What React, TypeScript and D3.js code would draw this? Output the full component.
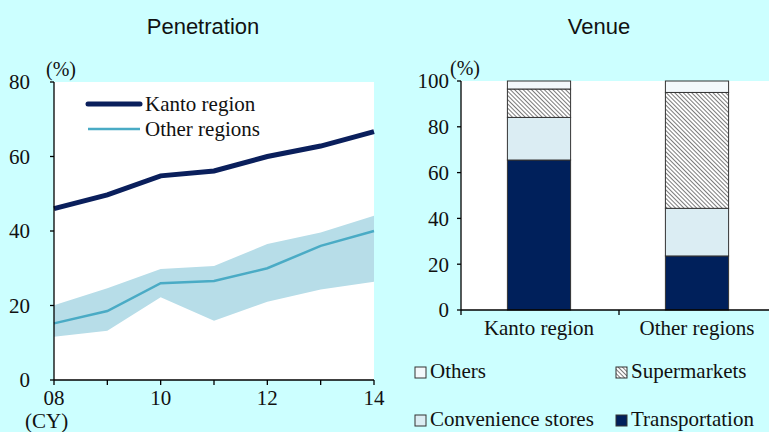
import React from "react";
import * as d3 from "d3";

// Penetration (%)
const years = [2008, 2009, 2010, 2011, 2012, 2013, 2014];
const yearLabels = ["08", "10", "12", "14"];
const kanto = [46, 49.7, 54.8, 56.1, 60, 62.8, 66.7];
const otherRegions = [15.2, 18.5, 26, 26.6, 30, 36, 40];
const otherHigh = [20.1, 24.6, 29.8, 30.6, 36.5, 39.6, 44.1];
const otherLow = [11.6, 13.2, 22.2, 15.9, 21, 24.3, 26.4];
const penTicks = [0, 20, 40, 60, 80];

// Venue (%)
const venueCategories = ["Kanto region", "Other regions"];
const transportation = [65.5, 23.6];
const convenience = [18.6, 20.8];
const supermarkets = [12.4, 50.6];
const others = [3.5, 5];
const venueTicks = [0, 20, 40, 60, 80, 100];

const BG = "#ccffff";
const NAVY = "#0a1f5c";
const TEAL = "#4aabc5";
const BAND = "#b7dde8";
const SERIF = "'Liberation Serif', 'Times New Roman', serif";
const SANS = "'Liberation Sans', Arial, sans-serif";

export default function App() {
  const W = 769;
  const H = 432;

  // left chart scales
  const xL = d3.scaleLinear().domain([2008, 2014]).range([54, 374]);
  const yL = d3.scaleLinear().domain([0, 80]).range([380, 82]);

  const line = d3
    .line<number>()
    .x((_, i) => xL(years[i]))
    .y((d) => yL(d));
  const area = d3
    .area<number>()
    .x((_, i) => xL(years[i]))
    .y0((_, i) => yL(otherLow[i]))
    .y1((d) => yL(d));

  // right chart scales
  const xR = d3
    .scaleBand()
    .domain(venueCategories)
    .range([460, 776])
    .paddingInner(0.6)
    .paddingOuter(0.3);
  const yR = d3.scaleLinear().domain([0, 100]).range([310, 81]);

  const venueRows = venueCategories.map((c, i) => ({
    cat: c,
    transportation: transportation[i],
    convenience: convenience[i],
    supermarkets: supermarkets[i],
    others: others[i],
  }));
  const keys = ["transportation", "convenience", "supermarkets", "others"];
  const fills: Record<string, string> = {
    transportation: "#00205b",
    convenience: "#dbedf3",
    supermarkets: "url(#hatch)",
    others: "#f3f8fb",
  };
  const stacked = d3.stack<any>().keys(keys)(venueRows);

  const legendItems = [
    { key: "others", label: "Others", x: 415, y: 367 },
    { key: "supermarkets", label: "Supermarkets", x: 616, y: 367 },
    { key: "convenience", label: "Convenience stores", x: 415, y: 415 },
    { key: "transportation", label: "Transportation", x: 616, y: 415 },
  ];

  const step = xR.step();

  return (
    <svg
      width={W}
      height={H}
      style={{ position: "absolute", left: 0, top: 0, background: BG }}
    >
      <defs>
        <pattern
          id="hatch"
          width="3"
          height="3"
          patternUnits="userSpaceOnUse"
          patternTransform="rotate(-45)"
        >
          <rect width="3" height="3" fill="#ffffff" />
          <line x1="0" y1="0" x2="0" y2="3" stroke="#333" strokeWidth="1.3" />
        </pattern>
      </defs>
      <rect width={W} height={H} fill={BG} />

      {/* titles */}
      <text x={203} y={34} textAnchor="middle" fontFamily={SANS} fontSize={22} fill="#111">
        Penetration
      </text>
      <text x={599} y={34} textAnchor="middle" fontFamily={SANS} fontSize={22} fill="#111">
        Venue
      </text>

      {/* ---------- left chart ---------- */}
      <rect x={54} y={82} width={320} height={298} fill="#fff" />
      <path d={area(otherHigh) || ""} fill={BAND} />
      <path d={line(otherRegions) || ""} fill="none" stroke={TEAL} strokeWidth={2.5} />
      <path d={line(kanto) || ""} fill="none" stroke={NAVY} strokeWidth={5} />

      <line x1={54} x2={54} y1={yL(80)} y2={yL(0)} stroke="#000" strokeWidth={1.3} />
      <line x1={54} x2={374} y1={yL(0)} y2={yL(0)} stroke="#000" strokeWidth={1.3} />
      {penTicks.map((t) => (
        <g key={t}>
          <line x1={50} x2={54} y1={yL(t)} y2={yL(t)} stroke="#000" strokeWidth={1.3} />
          <text
            x={30}
            y={yL(t)}
            dy="0.35em"
            textAnchor="end"
            fontFamily={SERIF}
            fontSize={21}
            fill="#111"
          >
            {t}
          </text>
        </g>
      ))}
      {years.map((yr) => (
        <line key={yr} x1={xL(yr)} x2={xL(yr)} y1={380} y2={385} stroke="#000" strokeWidth={1.3} />
      ))}
      {yearLabels.map((l) => (
        <text
          key={l}
          x={xL(2000 + +l)}
          y={405}
          textAnchor="middle"
          fontFamily={SERIF}
          fontSize={21}
          fill="#111"
        >
          {l}
        </text>
      ))}
      <text x={25} y={428} fontFamily={SERIF} fontSize={21} fill="#111">
        (CY)
      </text>
      <text x={46} y={76} fontFamily={SERIF} fontSize={20} fill="#111">
        (%)
      </text>

      {/* left legend */}
      <line x1={88} x2={140} y1={104} y2={104} stroke={NAVY} strokeWidth={5} strokeLinecap="round" />
      <text x={145} y={111} fontFamily={SERIF} fontSize={21} fill="#111">
        Kanto region
      </text>
      <line x1={88} x2={140} y1={129} y2={129} stroke={TEAL} strokeWidth={2.5} />
      <text x={145} y={136} fontFamily={SERIF} fontSize={21} fill="#111">
        Other regions
      </text>

      {/* ---------- right chart ---------- */}
      <rect x={461} y={81} width={W - 461} height={229} fill="#fff" />
      {stacked.map((s) => (
        <g key={s.key}>
          {s.map((d, i) => (
            <rect
              key={i}
              x={xR(venueCategories[i])}
              y={yR(d[1])}
              width={xR.bandwidth()}
              height={yR(d[0]) - yR(d[1])}
              fill={fills[s.key]}
              stroke="#333"
              strokeWidth={1}
            />
          ))}
        </g>
      ))}
      <line x1={461} x2={461} y1={yR(100)} y2={yR(0)} stroke="#000" strokeWidth={1.3} />
      <line x1={461} x2={W} y1={yR(0)} y2={yR(0)} stroke="#000" strokeWidth={1.3} />
      {venueTicks.map((t) => (
        <g key={t}>
          <line x1={457} x2={461} y1={yR(t)} y2={yR(t)} stroke="#000" strokeWidth={1.3} />
          <text
            x={449}
            y={yR(t)}
            dy="0.35em"
            textAnchor="end"
            fontFamily={SERIF}
            fontSize={21}
            fill="#111"
          >
            {t}
          </text>
        </g>
      ))}
      {[0, 1, 2].map((i) => (
        <line
          key={i}
          x1={461 + i * step}
          x2={461 + i * step}
          y1={yR(0)}
          y2={yR(0) + 5}
          stroke="#000"
          strokeWidth={1.3}
        />
      ))}
      {venueCategories.map((c) => (
        <text
          key={c}
          x={(xR(c) || 0) + xR.bandwidth() / 2}
          y={335}
          textAnchor="middle"
          fontFamily={SERIF}
          fontSize={21}
          fill="#111"
        >
          {c}
        </text>
      ))}
      <text x={450} y={75} fontFamily={SERIF} fontSize={20} fill="#111">
        (%)
      </text>

      {/* right legend */}
      {legendItems.map((it) => (
        <g key={it.key}>
          <rect
            x={it.x}
            y={it.y}
            width={11}
            height={11}
            fill={fills[it.key]}
            stroke="#333"
            strokeWidth={1}
          />
          <text x={it.x + 15} y={it.y + 11} fontFamily={SERIF} fontSize={21} fill="#111">
            {it.label}
          </text>
        </g>
      ))}
    </svg>
  );
}
